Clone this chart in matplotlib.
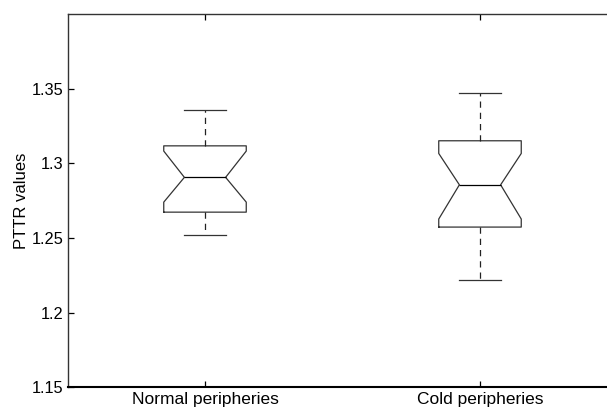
import matplotlib.pyplot as plt

plt.rcParams['font.family'] = ['Liberation Sans', 'DejaVu Sans']

# box statistics
groups = ['Normal peripheries', 'Cold peripheries']
whis_low = [1.2517, 1.2218]
q1 = [1.2673, 1.2573]
median = [1.2906, 1.2856]
q3 = [1.3117, 1.3151]
whis_high = [1.3354, 1.3472]
notch_low = [1.2740, 1.2627]
notch_high = [1.3082, 1.3066]

y_ticks = [1.15, 1.2, 1.25, 1.3, 1.35]
y_tick_labels = ['1.15', '1.2', '1.25', '1.3', '1.35']

stats = []
for i in range(len(groups)):
    stats.append({
        'label': groups[i],
        'whislo': whis_low[i], 'q1': q1[i], 'med': median[i],
        'q3': q3[i], 'whishi': whis_high[i],
        'cilo': notch_low[i], 'cihi': notch_high[i], 'fliers': [],
    })

fig = plt.figure(figsize=(6.07, 4.08), dpi=100)
# the axes runs past the right edge of the image, as in the reference crop
ax = fig.add_axes([67.5 / 607, (408 - 387.3) / 408, 550 / 607, (387.3 - 14) / 408])

ax.bxp(stats, positions=[1, 2], widths=0.3, shownotches=True, showfliers=False,
       boxprops=dict(color='#333333', linewidth=0.9),
       medianprops=dict(color='black', linewidth=0.9),
       whiskerprops=dict(color='#222222', linewidth=0.9, linestyle=(0, (5, 4))),
       capprops=dict(color='#333333', linewidth=0.9))

ax.set_xlim(0.5, 2.5)
ax.set_ylim(1.15, 1.40)
ax.set_yticks(y_ticks)
ax.set_yticklabels(y_tick_labels)
ax.set_xticks([1, 2])
ax.set_xticklabels(groups)
ax.set_ylabel('PTTR values', fontsize=12, labelpad=1.5)

ax.tick_params(axis='both', direction='in', length=4, width=0.9,
               colors='black', top=True, right=True)
ax.tick_params(axis='y', pad=3, labelsize=11.8)
ax.tick_params(axis='x', pad=3.3, labelsize=12.5)

for side in ['left', 'top', 'right']:
    ax.spines[side].set_linewidth(1.0)
    ax.spines[side].set_color('#333333')
ax.spines['bottom'].set_linewidth(1.5)
ax.spines['bottom'].set_color('black')

fig.savefig('out.png', dpi=100)
